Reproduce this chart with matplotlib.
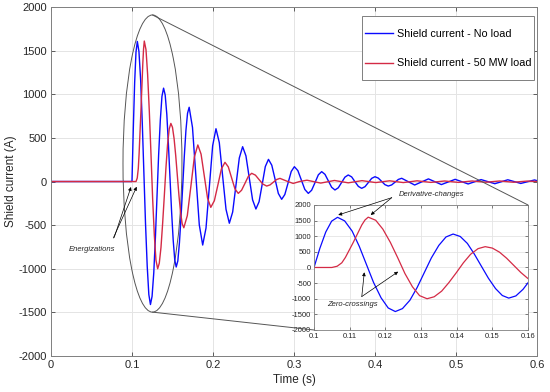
import matplotlib
matplotlib.use('Agg')
import matplotlib.pyplot as plt
from matplotlib.patches import Ellipse, ConnectionPatch, Rectangle

plt.rcParams['font.family'] = ['Liberation Sans', 'DejaVu Sans']
plt.rcParams['axes.unicode_minus'] = False

# shield current, no load (time s, current A)
t_noload = [0.0, 0.1000, 0.10165, 0.1033, 0.10495, 0.1066,
            0.1086, 0.1107, 0.1127, 0.1147, 0.1167, 0.1188, 0.1208, 0.1228,
            0.1248, 0.1269, 0.1289, 0.1309, 0.1329, 0.1350, 0.1370, 0.1390,
            0.1410, 0.1430, 0.1449, 0.1469, 0.1489, 0.1509, 0.1528, 0.1546,
            0.1566, 0.1586, 0.1606, 0.1626, 0.1646, 0.1666, 0.1686, 0.1706,
            0.1747, 0.1789, 0.1831, 0.1873,
            0.1914, 0.1955, 0.1996, 0.2037,
            0.2078, 0.2119, 0.2161, 0.2202,
            0.2243, 0.2284, 0.2325, 0.2366,
            0.2407, 0.2448, 0.2489, 0.2530,
            0.2569, 0.2608, 0.2646, 0.2685,
            0.2726, 0.2767, 0.2807, 0.2848,
            0.2887, 0.2927, 0.2966, 0.3005,
            0.3048, 0.3091, 0.3134, 0.3177,
            0.3218, 0.3260, 0.3301, 0.3342,
            0.3383, 0.3424, 0.3465, 0.3506,
            0.3547, 0.3588, 0.3629, 0.3670,
            0.3712, 0.3753, 0.3795, 0.3836,
            0.3877, 0.3918, 0.3959, 0.4000,
            0.4041, 0.4082, 0.4123, 0.4164,
            0.4206, 0.4247, 0.4289, 0.4330,
            0.4490, 0.4660, 0.4820, 0.4990, 0.5150, 0.5310, 0.5480, 0.5640,
            0.5800, 0.5970, 0.6000]
i_noload = [0, 0, 614, 1135, 1483, 1605,
            1490, 1163, 675, 97, -480, -969, -1295, -1410,
            -1316, -1047, -645, -170, 305, 707, 976, 1070,
            992, 770, 439, 47, -344, -675, -897, -980,
            -910, -700, -400, -60, 290, 585, 782, 851,
            620, 62, -497, -728,
            -533, -62, 410, 605,
            446, 64, -319, -478,
            -350, -40, 270, 399,
            294, 42, -210, -315,
            -232, -30, 171, 254,
            187, 25, -137, -204,
            -149, -17, 115, 170,
            125, 17, -91, -136,
            -100, -12, 77, 113,
            82, 8, -66, -97,
            -72, -11, 50, 75,
            53, -2, -56, -78,
            -59, -12, 36, 55,
            39, 2, -36, -52,
            -39, -8, 24, 37,
            -40, 30, -35, 25, -28, 22, -25, 20,
            -22, 18, 10]

# shield current, 50 MW load
t_load = [0.0, 0.1050, 0.1065, 0.1078, 0.1088, 0.1099, 0.1110, 0.1122,
          0.1134, 0.1143, 0.1152,
          0.1173, 0.1193, 0.1214, 0.1235, 0.1255, 0.1276, 0.1296, 0.1317,
          0.1337, 0.1358, 0.1378, 0.1399, 0.1419, 0.1439, 0.1460, 0.1480,
          0.1500, 0.1520, 0.1540, 0.1560, 0.1580, 0.1600, 0.1620, 0.1640,
          0.1683, 0.1727, 0.1770, 0.1813,
          0.1853, 0.1893, 0.1933, 0.1973,
          0.2017, 0.2061, 0.2104, 0.2148,
          0.2189, 0.2230, 0.2271, 0.2312,
          0.2353, 0.2395, 0.2437, 0.2478,
          0.2524, 0.2570, 0.2617, 0.2663,
          0.2704, 0.2745, 0.2786, 0.2827,
          0.2910, 0.2990, 0.3070, 0.3160,
          0.3330, 0.3500, 0.3670, 0.3840, 0.4010, 0.4180, 0.4350, 0.4520,
          0.4690, 0.4860, 0.5030, 0.5200, 0.5370, 0.5540, 0.5710, 0.5880,
          0.6000]
i_load = [0, 0, 40, 150, 320, 560, 800, 1080,
          1360, 1520, 1610,
          1511, 1228, 805, 305, -195, -618, -901, -1000,
          -937, -756, -486, -167, 152, 422, 603, 666,
          621, 491, 297, 68, -161, -355, -485, -530,
          -391, -56, 280, 419,
          314, 62, -191, -296,
          -220, -38, 144, 220,
          168, 42, -84, -136,
          -100, -21, 60, 94,
          73, 21, -30, -52,
          -39, -8, 23, 36,
          5, -22, 0, 15,
          -18, 12, -15, 10, -12, 8, -12, 8,
          -10, 6, -10, 6, -8, 6, -8, 5,
          0]

x_ticks = [0, 0.1, 0.2, 0.3, 0.4, 0.5, 0.6]
x_labels = ['0', '0.1', '0.2', '0.3', '0.4', '0.5', '0.6']
y_ticks = [-2000, -1500, -1000, -500, 0, 500, 1000, 1500, 2000]
inset_x_ticks = [0.1, 0.11, 0.12, 0.13, 0.14, 0.15, 0.16]
inset_x_labels = ['0.1', '0.11', '0.12', '0.13', '0.14', '0.15', '0.16']

blue = '#0A0AFF'
red = '#D42A45'
grid_c = '#E4E4E4'
spine_c = '#7F7F7F'
text_c = '#262626'

fig = plt.figure(figsize=(5.5, 3.92), dpi=100)
ax = fig.add_axes([0.0927, 0.0918, 0.8836, 0.8903])

ax.plot(t_noload, i_noload, color=blue, lw=1.0, label='Shield current - No load')
ax.plot(t_load, i_load, color=red, lw=1.0, label='Shield current - 50 MW load')
ax.set_xlim(0, 0.6)
ax.set_ylim(-2000, 2000)
ax.set_xticks(x_ticks)
ax.set_xticklabels(x_labels)
ax.set_yticks(y_ticks)
ax.grid(True, color=grid_c, lw=0.7)
ax.set_axisbelow(True)
ax.tick_params(direction='in', top=True, right=True, length=3, width=0.5,
               labelsize=8, colors=text_c, pad=3)
for s in ax.spines.values():
    s.set_color(spine_c)
    s.set_linewidth(0.7)
ax.set_xlabel('Time (s)', fontsize=8.5, color=text_c, labelpad=3)
ax.set_ylabel('Shield current (A)', fontsize=8.5, color=text_c, labelpad=1)

# legend: matlab-like box with wide vertical padding
box = Rectangle((362 / 550, 1 - 80 / 392), 172 / 550, 64 / 392,
                transform=fig.transFigure, facecolor='white',
                edgecolor=spine_c, lw=0.7, zorder=4.5, clip_on=False)
ax.add_patch(box)
leg = ax.legend(loc='upper left', bbox_to_anchor=(365 / 550, 1 - 29 / 392),
                bbox_transform=fig.transFigure, fontsize=7.75, frameon=False,
                handlelength=2.6, labelspacing=1.8, borderpad=0,
                borderaxespad=0, handletextpad=0.35)
leg.set_zorder(6)

# zoom ellipse around the first oscillations
ell = Ellipse((0.1253, 206), 0.0728, 3406, fill=False, edgecolor='#555555', lw=0.7)
ax.add_patch(ell)

ax.annotate('Energizations', xy=(0.0988, -63), xytext=(0.0506, -774),
            fontsize=5.5, style='italic', color=text_c, ha='center', va='center',
            arrowprops=dict(arrowstyle='-|>', color='black', lw=0.5,
                            mutation_scale=5, shrinkA=4, shrinkB=0,
                            relpos=(0.92, 1.0)))
ax.annotate('', xy=(0.1058, -60), xytext=(0.0769, -648),
            arrowprops=dict(arrowstyle='-|>', color='black', lw=0.5,
                            mutation_scale=5, shrinkA=0, shrinkB=0))

# inset
axin = fig.add_axes([0.5709, 0.1582, 0.3891, 0.3189])
axin.plot(t_noload, i_noload, color=blue, lw=0.9)
axin.plot(t_load, i_load, color=red, lw=0.9)
axin.set_xlim(0.1, 0.16)
axin.set_ylim(-2000, 2000)
axin.set_xticks(inset_x_ticks)
axin.set_xticklabels(inset_x_labels)
axin.set_yticks(y_ticks)
axin.grid(True, color=grid_c, lw=0.6)
axin.set_axisbelow(True)
axin.tick_params(direction='in', top=True, right=True, length=2, width=0.4,
                 labelsize=5.5, colors=text_c, pad=2)
for s in axin.spines.values():
    s.set_color(spine_c)
    s.set_linewidth(0.6)

arr = dict(arrowstyle='-|>', color='black', lw=0.5, mutation_scale=5,
           shrinkA=0, shrinkB=0)
axin.annotate('', xy=(0.1068, 1680), xytext=(0.1218, 2234), arrowprops=arr,
              annotation_clip=False)
axin.annotate('', xy=(0.1159, 1680), xytext=(0.1218, 2234), arrowprops=arr,
              annotation_clip=False)
axin.text(0.1237, 2320, 'Derivative-changes', fontsize=5.5, style='italic',
          color=text_c, ha='left', va='center', clip_on=False)
axin.annotate('', xy=(0.1141, -154), xytext=(0.1134, -930), arrowprops=arr)
axin.annotate('', xy=(0.1236, -134), xytext=(0.1134, -930), arrowprops=arr)
axin.text(0.1109, -1200, 'Zero-crossings', fontsize=5.5, style='italic',
          color=text_c, ha='center', va='center')

con1 = ConnectionPatch(xyA=(0.1253, 1909), coordsA=ax.transData,
                       xyB=(1, 1), coordsB=axin.transAxes,
                       color='#555555', lw=0.7)
con2 = ConnectionPatch(xyA=(0.1253, -1497), coordsA=ax.transData,
                       xyB=(0, 0), coordsB=axin.transAxes,
                       color='#555555', lw=0.7)
fig.add_artist(con1)
fig.add_artist(con2)

fig.savefig('out.png', dpi=100)
